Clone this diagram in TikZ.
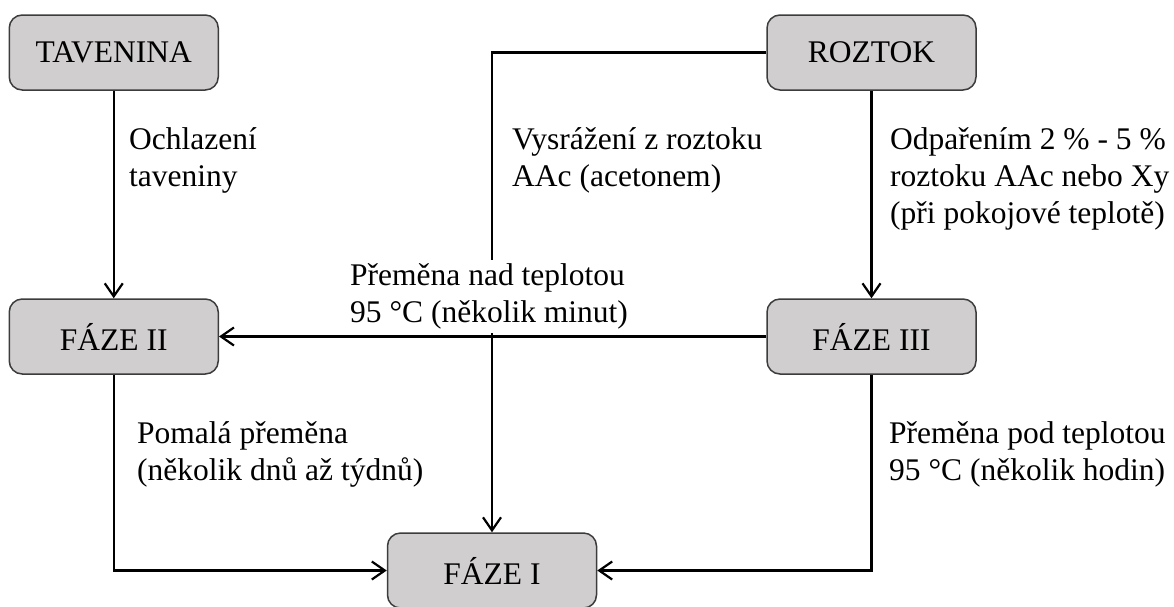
\documentclass[tikz,border=0pt]{standalone}
\usepackage{fontspec}
\setmainfont{Liberation Serif}
\usetikzlibrary{arrows.meta}
\definecolor{boxgray}{RGB}{208,206,207}
\definecolor{boxedge}{RGB}{60,60,60}
\begin{document}
\begin{tikzpicture}[x=1pt,y=-1pt,
  box/.style={draw=boxedge, line width=1.5pt, fill=boxgray, rounded corners=13pt,
    minimum width=209pt, minimum height=75pt, inner sep=0pt,
    font=\fontsize{31.5}{37}\selectfont},
  lbl/.style={align=left, inner sep=0pt, anchor=north west,
    font=\fontsize{31.5}{37}\selectfont},
  conn/.style={line width=2.2pt, -{Straight Barb[length=13pt,width=18pt]}},
  ]
\clip (0,0) rectangle (1174,606);
\fill[white] (0,0) rectangle (1174,606);

\node[box] (tav) at (113.75,52.5) {TAVENINA};
\node[box] (roz) at (871.5,52.5) {ROZTOK};
\node[box] (f2) at (113.75,336.5) {FÁZE II};
\node[box] (f3) at (871.5,336.5) {FÁZE III};
\node[box] (f1) at (492,570.5) {FÁZE I};

\draw[conn] (tav.south) -- (f2.north);
\draw[conn] (roz.south) -- (f3.north);
\draw[conn] (roz.west) -| (f1.north);
\draw[conn] (f2.south) |- (f1.west);
\draw[conn] (f3.south) |- (f1.east);

\node[lbl] (l1) at (129,127.5) {Ochlazení\\taveniny};
\node[lbl] (l2) at (512,127.5) {Vysrážení z roztoku\\AAc (acetonem)};
\node[lbl] (l3) at (890,127.5) {Odpařením 2 \% - 5 \%\\roztoku AAc nebo Xy\\(při pokojové teplotě)};
\node[lbl, fill=white, inner ysep=4pt, anchor=north west] (l4) at (350,259.5) {Přeměna nad teplotou\\95 °C (několik minut)};
\node[lbl] (l5) at (137,421.5) {Pomalá přeměna\\(několik dnů až týdnů)};
\node[lbl] (l6) at (889,421.5) {Přeměna pod teplotou\\95 °C (několik hodin)};

\draw[conn] (f3.west) -- (f2.east);
\end{tikzpicture}
\end{document}
